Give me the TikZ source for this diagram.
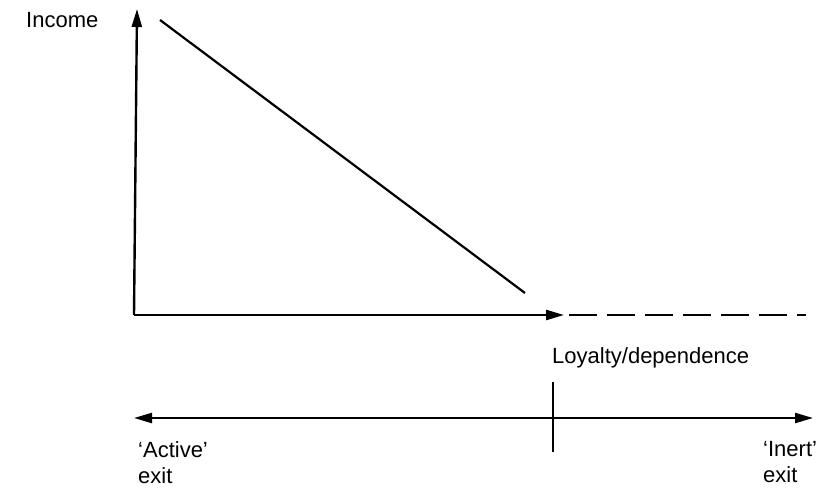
\documentclass[tikz,border=0pt]{standalone}
\usepackage{fontspec}
\setmainfont{Liberation Sans}
\usetikzlibrary{arrows.meta}

\tikzset{
  axisline/.style={line width=2.4pt, -{Triangle[length=18pt,width=10pt]}},
  txt/.style={font=\fontsize{22}{26}\selectfont, inner sep=0pt, align=left}
}

\begin{document}
\begin{tikzpicture}[x=1pt, y=-1pt]
        \useasboundingbox (0,0) rectangle (816,493);

        % ---- AXES ----
        \coordinate (origin) at (134, 315);
        \coordinate (ytop)   at (137, 9);
        \coordinate (xend)   at (564, 315);
        \coordinate (dashA)  at (569, 315);
        \coordinate (dashB)  at (806, 315);
        \draw[axisline] (origin) -- (ytop);
        \draw[axisline] (origin) -- (xend);
        \draw[line width=2.4pt, dash pattern=on 28pt off 10pt] (dashA) -- (dashB);

        % income line
        \coordinate (lineA) at (160, 20);
        \coordinate (lineB) at (525, 293);
        \draw[line width=2.2pt] (lineA) -- (lineB);

        \node[txt, anchor=base west] (income) at (26, 27) {Income};
        \node[txt, anchor=base west] (loyalty) at (552, 363) {Loyalty/dependence};

        % ---- EXIT SCALE ----
        \coordinate (exitL) at (134, 418);
        \coordinate (exitR) at (813, 418);
        \draw[line width=2.2pt, {Triangle[length=18pt,width=10pt]}-{Triangle[length=18pt,width=10pt]}] (exitL) -- (exitR);
        \coordinate (tickA) at (553, 382);
        \coordinate (tickB) at (553, 452);
        \draw[line width=2.2pt] (tickA) -- (tickB);

        \node[txt, anchor=north west] (active) at (138, 441) {`Active'\\exit};
        \node[txt, anchor=north west] (inert) at (763, 441) {`Inert'\\exit};
      \end{tikzpicture}
\end{document}
